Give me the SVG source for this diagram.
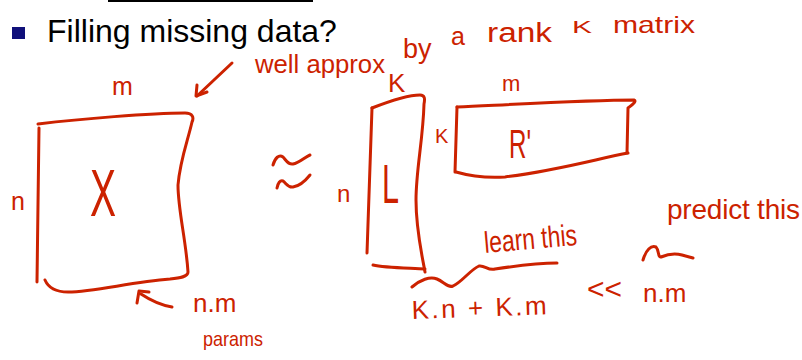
<svg xmlns="http://www.w3.org/2000/svg" width="802" height="360" viewBox="0 0 802 360">
<style>
.ink{fill:none;stroke:#cc2200;stroke-width:3;stroke-linecap:round;stroke-linejoin:round}
.hw{fill:#cc2200;font-family:"Liberation Sans",Arial,sans-serif}
.title{fill:#000;font-family:"Liberation Sans",Arial,sans-serif;font-size:32px}
</style>
<rect width="802" height="360" fill="#fff"/>
<rect x="108" y="0" width="205" height="2" fill="#000"/>
<rect x="12" y="27" width="13" height="12" fill="#10107a"/>
<text class="title" x="47" y="42">Filling missing data?</text>

<g id="matrixX">
<path class="ink" d="M38,124 C80,119 150,113 185,113 C193,113 194,118 192,122 C188,140 180,160 178,185 C178,210 186,240 188,272 C188,277 180,278 170,279 C130,282 95,292 68,292 C55,292 48,287 45,280"/>
<path class="ink" d="M39,128 L37,282"/>
<text class="hw" x="112" y="95" font-size="25">m</text>
<text class="hw" x="11" y="210" font-size="25">n</text>
<text class="hw" x="90" y="216" font-size="66" textLength="26" lengthAdjust="spacingAndGlyphs">X</text>
<path class="ink" d="M172,307 C160,305 150,300 141,294"/>
<path class="ink" d="M137,303 L139,291 L149,292"/>
<text class="hw" x="193" y="312" font-size="26">n.m</text>
<text class="hw" x="203" y="346" font-size="21" textLength="60" lengthAdjust="spacingAndGlyphs">params</text>
</g>

<g id="note">
<path class="ink" d="M232,63 L197,96"/>
<path class="ink" d="M197,85 L196,96 L207,92"/>
<text class="hw" x="255" y="73" font-size="26" textLength="130" lengthAdjust="spacingAndGlyphs">well approx</text>
<text class="hw" x="403" y="58" font-size="27">by</text>
<text class="hw" x="451" y="45" font-size="25">a</text>
<text class="hw" x="487" y="42" font-size="27" textLength="65" lengthAdjust="spacingAndGlyphs">rank</text>
<text class="hw" x="572" y="33" font-size="17" textLength="20" lengthAdjust="spacingAndGlyphs">K</text>
<text class="hw" x="613" y="33" font-size="24" textLength="82" lengthAdjust="spacingAndGlyphs">matrix</text>
</g>

<g id="approx">
<path class="ink" d="M273,165 C275,158 279,154 283,157 C286,160 288,165 293,164 C299,163 305,157 310,155"/>
<path class="ink" d="M277,188 C278,183 280,180 283,181 C286,183 288,188 293,187 C300,186 306,180 310,175"/>
</g>

<g id="matrixL">
<path class="ink" d="M372,108 C371,150 369,200 367,253"/>
<path class="ink" d="M372,108 C390,101 408,95 420,95 C425,95 425,99 424,104 C423,140 416,170 416,200 C416,230 422,255 425,272"/>
<path class="ink" d="M373,265 C385,268 410,268 425,269"/>
<text class="hw" x="388" y="92" font-size="26">K</text>
<text class="hw" x="337" y="202" font-size="24">n</text>
<text class="hw" x="382" y="203" font-size="56" textLength="17" lengthAdjust="spacingAndGlyphs">L</text>
</g>

<g id="matrixR">
<path class="ink" d="M457,107 L455,172"/>
<path class="ink" d="M457,107 C520,104 590,100 634,100 C637,101 633,104 628,108 L627,153"/>
<path class="ink" d="M456,172 C470,176 490,178 505,177 C560,170 600,158 628,153"/>
<text class="hw" x="502" y="91" font-size="22">m</text>
<text class="hw" x="435" y="143" font-size="20">K</text>
<text class="hw" x="509" y="158" font-size="40" textLength="22" lengthAdjust="spacingAndGlyphs">R'</text>
</g>

<g id="learn">
<text class="hw" x="485" y="253" font-size="30" textLength="93" lengthAdjust="spacingAndGlyphs" transform="rotate(-5 485 253)">learn this</text>
<path class="ink" d="M412,287 C420,280 430,276 437,279 C444,282 448,288 453,286 C462,282 470,270 479,266 C485,265 488,271 495,269 C515,266 540,263 557,263"/>
<text class="hw" x="412" y="319" font-size="26" textLength="135" lengthAdjust="spacing" transform="rotate(-2 412 319)">K.n + K.m</text>
<text class="hw" x="587" y="299" font-size="30" textLength="35" lengthAdjust="spacingAndGlyphs">&lt;&lt;</text>
<text class="hw" x="643" y="302" font-size="26">n.m</text>
</g>

<g id="predict">
<text class="hw" x="667" y="219" font-size="28" textLength="133" lengthAdjust="spacing">predict this</text>
<path class="ink" d="M643,260 C646,250 651,245 656,247 C659,250 658,258 661,257 C668,254 675,253 682,255 L693,258"/>
</g>
</svg>
